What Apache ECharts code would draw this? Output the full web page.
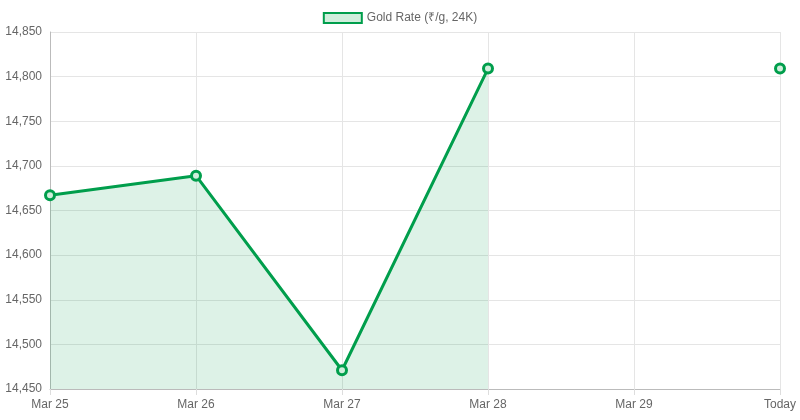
<!DOCTYPE html>
<html>
<head>
<meta charset="utf-8">
<script src="https://cdn.jsdelivr.net/npm/echarts@6/dist/echarts.min.js"></script>
<style>html,body{margin:0;padding:0;background:#fff}#chart{width:800px;height:420px}</style>
</head>
<body>
<div id="chart"></div>
<script>
var categories = ['Mar 25', 'Mar 26', 'Mar 27', 'Mar 28', 'Mar 29', 'Today'];
var rates = [14667, 14689, 14471, 14809, null, 14809];
var seriesName = 'Gold Rate (₹/g, 24K)';

var chart = echarts.init(document.getElementById('chart'));
var option = {
    animation: false,
    textStyle: { fontFamily: 'Liberation Sans, Arial, sans-serif' },
    legend: {
        top: 7,
        left: 'center',
        itemWidth: 38,
        itemHeight: 10,
        itemGap: 6,
        textStyle: { color: '#666', fontSize: 12 },
        data: [{ name: seriesName, icon: 'rect' }]
    },
    grid: { left: 50, right: 20, top: 32, bottom: 31 },
    xAxis: {
        type: 'category',
        data: categories,
        boundaryGap: false,
        axisLine: { lineStyle: { color: '#bbb' } },
        axisTick: { show: true, length: 6, lineStyle: { color: '#ddd' } },
        axisLabel: { color: '#666', fontSize: 12, margin: 10 },
        splitLine: { show: true, lineStyle: { color: '#e5e5e5' } }
    },
    yAxis: {
        type: 'value',
        min: 14450,
        max: 14850,
        interval: 50,
        axisLine: { show: true, lineStyle: { color: '#bbb' } },
        axisTick: { show: false },
        axisLabel: { color: '#666', fontSize: 12, margin: 8 },
        splitLine: { lineStyle: { color: '#e5e5e5' } }
    },
    series: [{
        name: seriesName,
        type: 'line',
        data: rates,
        connectNulls: false,
        symbol: 'circle',
        symbolSize: 9,
        lineStyle: { color: '#009e4c', width: 3 },
        itemStyle: { color: '#d0eedc', borderColor: '#009e4c', borderWidth: 3 },
        areaStyle: { color: 'rgba(0,160,75,0.19)' }
    }]
};
chart.setOption(option);
</script>
</body>
</html>
